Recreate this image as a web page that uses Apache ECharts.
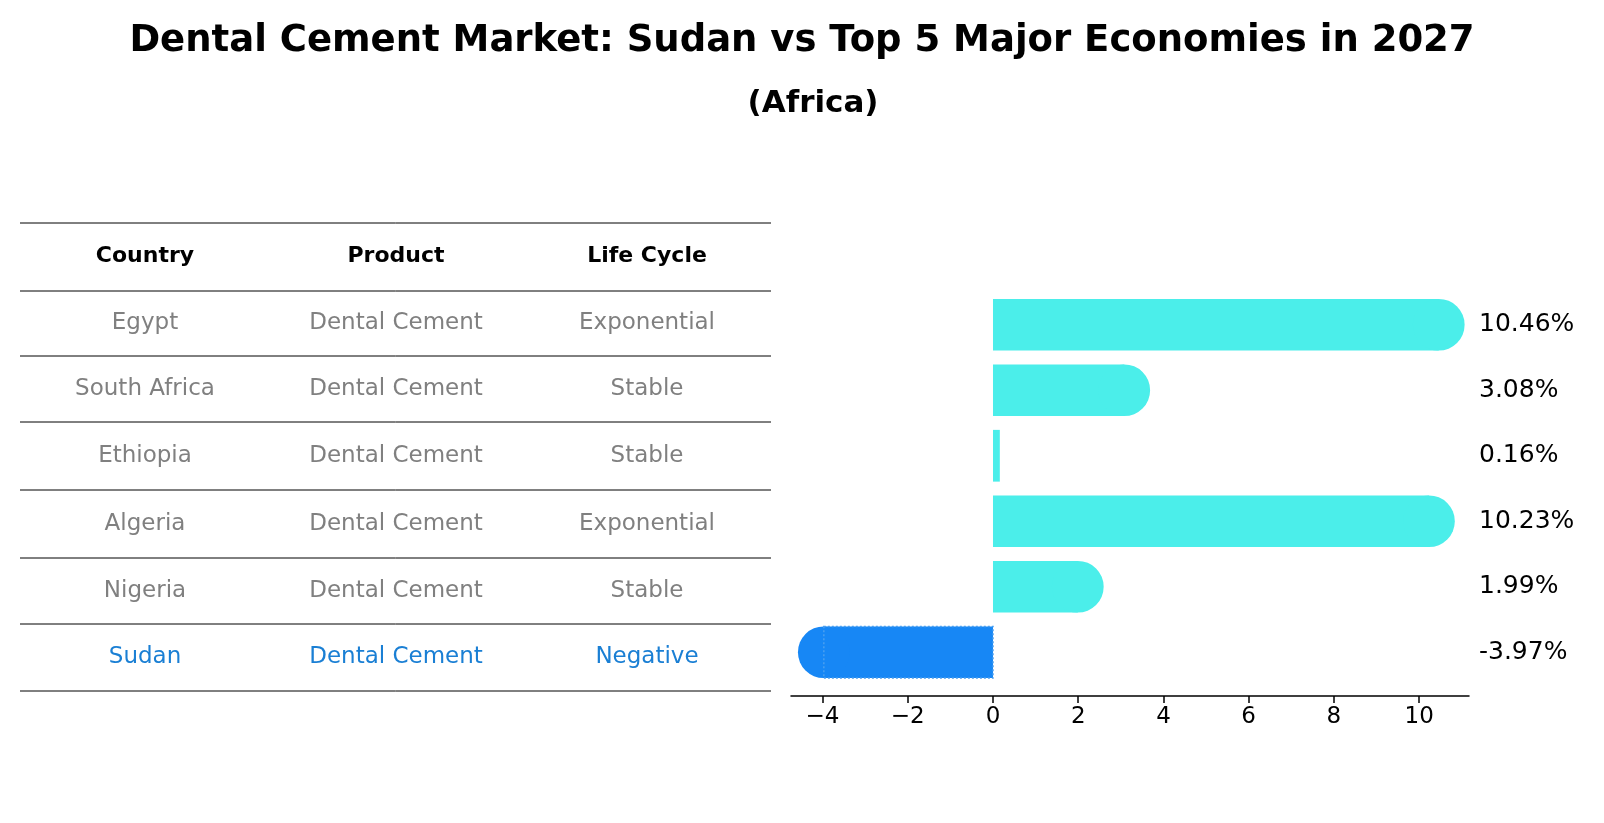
<!DOCTYPE html>
<html><head><meta charset="utf-8">
<script src="https://cdn.jsdelivr.net/npm/echarts@6/dist/echarts.min.js"></script>
<style>html,body{margin:0;background:#fff}#c{width:1604px;height:823px}</style>
</head><body><div id="c"></div>
<script>
const countries = ['Egypt','South Africa','Ethiopia','Algeria','Nigeria','Sudan'];
const products = ['Dental Cement','Dental Cement','Dental Cement','Dental Cement','Dental Cement','Dental Cement'];
const lifeCycles = ['Exponential','Stable','Stable','Exponential','Stable','Negative'];
const growth = [10.46, 3.08, 0.16, 10.23, 1.99, -3.97];
const headers = ['Country','Product','Life Cycle'];
const xTicks = [-4,-2,0,2,4,6,8,10];

const chart = echarts.init(document.getElementById('c'));
const F = 'DejaVu Sans';
const graphic = [];
const colX = [145, 396, 647];
const lineY = [223, 291, 356, 422, 490, 558, 624, 691];
lineY.forEach(y => graphic.push({type:'line', shape:{x1:20,y1:y,x2:771,y2:y}, style:{stroke:'#000',lineWidth:1}}));
headers.forEach((h,i)=>graphic.push({type:'text', x:colX[i], y:256, style:{text:h, font:'bold 22px '+F, fill:'#000', align:'center', verticalAlign:'middle'}}));
countries.forEach((c,r)=>{
  const row=[c,products[r],lifeCycles[r]];
  const col = c==='Sudan' ? '#1a7fd4' : '#808080';
  row.forEach((t,i)=>graphic.push({type:'text', x:colX[i], y:(lineY[r+1]+lineY[r+2])/2, style:{text:t, font:'23px '+F, fill:col, align:'center', verticalAlign:'middle'}}));
});

chart.setOption({
  animation:false,
  title:[{text:'Dental Cement Market: Sudan vs Top 5 Major Economies in 2027', left:'center', top:18, textStyle:{fontFamily:F, fontSize:37, fontWeight:'bold', color:'#000'}},
         {text:'(Africa)', left:808, textAlign:'center', top:83, textStyle:{fontFamily:F, fontSize:31, fontWeight:'bold', color:'#000'}}],
  graphic: graphic,
  grid:{left:791, right:135, top:292, bottom:138},
  xAxis:{type:'value', min:-4.74, max:11.17, offset:11,
    axisLine:{show:true, lineStyle:{color:'#000', width:1.5}},
    axisTick:{show:true, length:7, customValues: xTicks, lineStyle:{color:'#000', width:1.5}},
    splitLine:{show:false}, axisLabel:{fontFamily:F, fontSize:23, color:'#000', margin:10,
      customValues: xTicks, formatter:v=>String(v).replace('-','\u2212')}},
  yAxis:{type:'category', data:countries, inverse:true, show:false},
  series:[{type:'custom', data:growth.map((v,i)=>[v,i]), encode:{x:0,y:1},
    renderItem:(params, api)=>{
      const v=api.value(0), i=api.value(1);
      const p0=api.coord([0,i]), p1=api.coord([v,i]);
      const h=api.size([0,1])[1]*0.79, r=h/2;
      const sud = countries[i]==='Sudan';
      const color = sud ? '#1787F5' : '#4BEEEA';
      const x0=Math.min(p0[0],p1[0]), w=Math.abs(p1[0]-p0[0]);
      const ch=[{type:'rect', shape:{x:x0,y:p0[1]-r,width:w,height:h}, style:{fill:color}}];
      if (w>r) ch.push({type:'circle', shape:{cx:p1[0],cy:p1[1],r:r}, style:{fill:color}});
      if (sud) ch.push({type:'rect', shape:{x:x0,y:p0[1]-r,width:w,height:h}, style:{fill:null, stroke:'#4a9ff0', lineWidth:1.5, lineDash:[2,2]}});
      ch.push({type:'text', x:params.coordSys.x+params.coordSys.width+10, y:p0[1], style:{text:v.toFixed(2)+'%', font:'25px '+F, fill:'#000', verticalAlign:'middle'}});
      return {type:'group', children:ch};
    }}]
});
</script></body></html>
